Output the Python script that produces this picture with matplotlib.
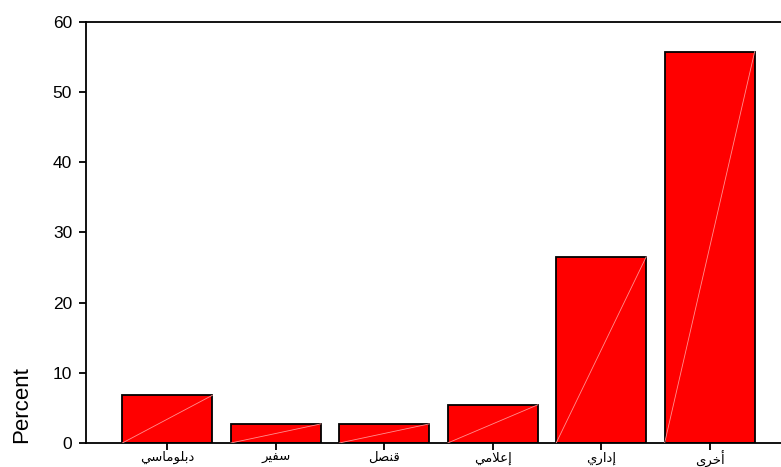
import matplotlib
matplotlib.use('Agg')
import matplotlib.pyplot as plt
import numpy as np

categories = ['دبلوماسي', 'سفير', 'قنصل', 'إعلامي', 'إداري', 'أخرى']
percent = [6.80, 2.72, 2.72, 5.44, 26.53, 55.78]
y_ticks = [0, 10, 20, 30, 40, 50, 60]

# presentation forms: (isolated, final, initial, medial); two-form letters only join to the right
FORMS = {
    'ا': (0xFE8D, 0xFE8E), 'أ': (0xFE83, 0xFE84), 'إ': (0xFE87, 0xFE88),
    'د': (0xFEA9, 0xFEAA), 'ر': (0xFEAD, 0xFEAE), 'و': (0xFEED, 0xFEEE),
    'ى': (0xFEEF, 0xFEF0),
    'ب': (0xFE8F, 0xFE90, 0xFE91, 0xFE92), 'خ': (0xFEA5, 0xFEA6, 0xFEA7, 0xFEA8),
    'س': (0xFEB1, 0xFEB2, 0xFEB3, 0xFEB4), 'ص': (0xFEB9, 0xFEBA, 0xFEBB, 0xFEBC),
    'ع': (0xFEC9, 0xFECA, 0xFECB, 0xFECC), 'ف': (0xFED1, 0xFED2, 0xFED3, 0xFED4),
    'ق': (0xFED5, 0xFED6, 0xFED7, 0xFED8), 'ل': (0xFEDD, 0xFEDE, 0xFEDF, 0xFEE0),
    'م': (0xFEE1, 0xFEE2, 0xFEE3, 0xFEE4), 'ن': (0xFEE5, 0xFEE6, 0xFEE7, 0xFEE8),
    'ي': (0xFEF1, 0xFEF2, 0xFEF3, 0xFEF4),
}
LAM_ALEF = {'ا': (0xFEFB, 0xFEFC), 'أ': (0xFEF7, 0xFEF8), 'إ': (0xFEF9, 0xFEFA)}


def shape(word):
    # join letters into contextual forms, then reverse for left-to-right drawing
    letters = []
    i = 0
    while i < len(word):
        if word[i] == 'ل' and i + 1 < len(word) and word[i + 1] in LAM_ALEF:
            letters.append(('LA', word[i + 1]))
            i += 2
        else:
            letters.append(('C', word[i]))
            i += 1

    def joins_left(item):
        return item[0] == 'C' and len(FORMS[item[1]]) == 4

    out = []
    for k, item in enumerate(letters):
        prev_joins = k > 0 and joins_left(letters[k - 1])
        if item[0] == 'LA':
            f = LAM_ALEF[item[1]]
            out.append(chr(f[1] if prev_joins else f[0]))
            continue
        f = FORMS[item[1]]
        next_exists = k + 1 < len(letters)
        if len(f) == 4 and next_exists:
            code = f[3] if prev_joins else f[2]
        else:
            code = f[1] if prev_joins else f[0]
        out.append(chr(code))
    return ''.join(reversed(out))


fig = plt.figure(figsize=(7.81, 4.67), dpi=100)
ax = fig.add_axes([86 / 781, 24 / 467, 705 / 781, 421 / 467])

x = np.arange(len(categories))
width = 0.83
ax.bar(x, percent, width=width, color='#ff0000', edgecolor='black', linewidth=1.3, zorder=2)

# faint corner-to-corner streak across each bar
for xi, h in zip(x, percent):
    ax.plot([xi - width / 2, xi + width / 2], [0, h], color='#ff9090', linewidth=0.6, zorder=3)

ax.set_xlim(-0.75, len(categories) - 0.25)
ax.set_ylim(0, 60)
ax.set_yticks(y_ticks)
ax.set_yticklabels([str(t) for t in y_ticks], fontsize=12.5, family='Liberation Sans')
ax.set_xticks(x)
ax.set_xticklabels([shape(c) for c in categories], fontsize=9.5, family='DejaVu Sans')

ax.tick_params(axis='both', direction='out', length=5, width=1.3, colors='black')
ax.tick_params(axis='y', pad=5)
ax.tick_params(axis='x', pad=1)
for s in ax.spines.values():
    s.set_linewidth(1.3)

fig.text(22 / 781, 1 - 405 / 467, 'Percent', rotation=90, fontsize=16,
         family='Liberation Sans', ha='center', va='center')

fig.savefig('out.png', dpi=100)
